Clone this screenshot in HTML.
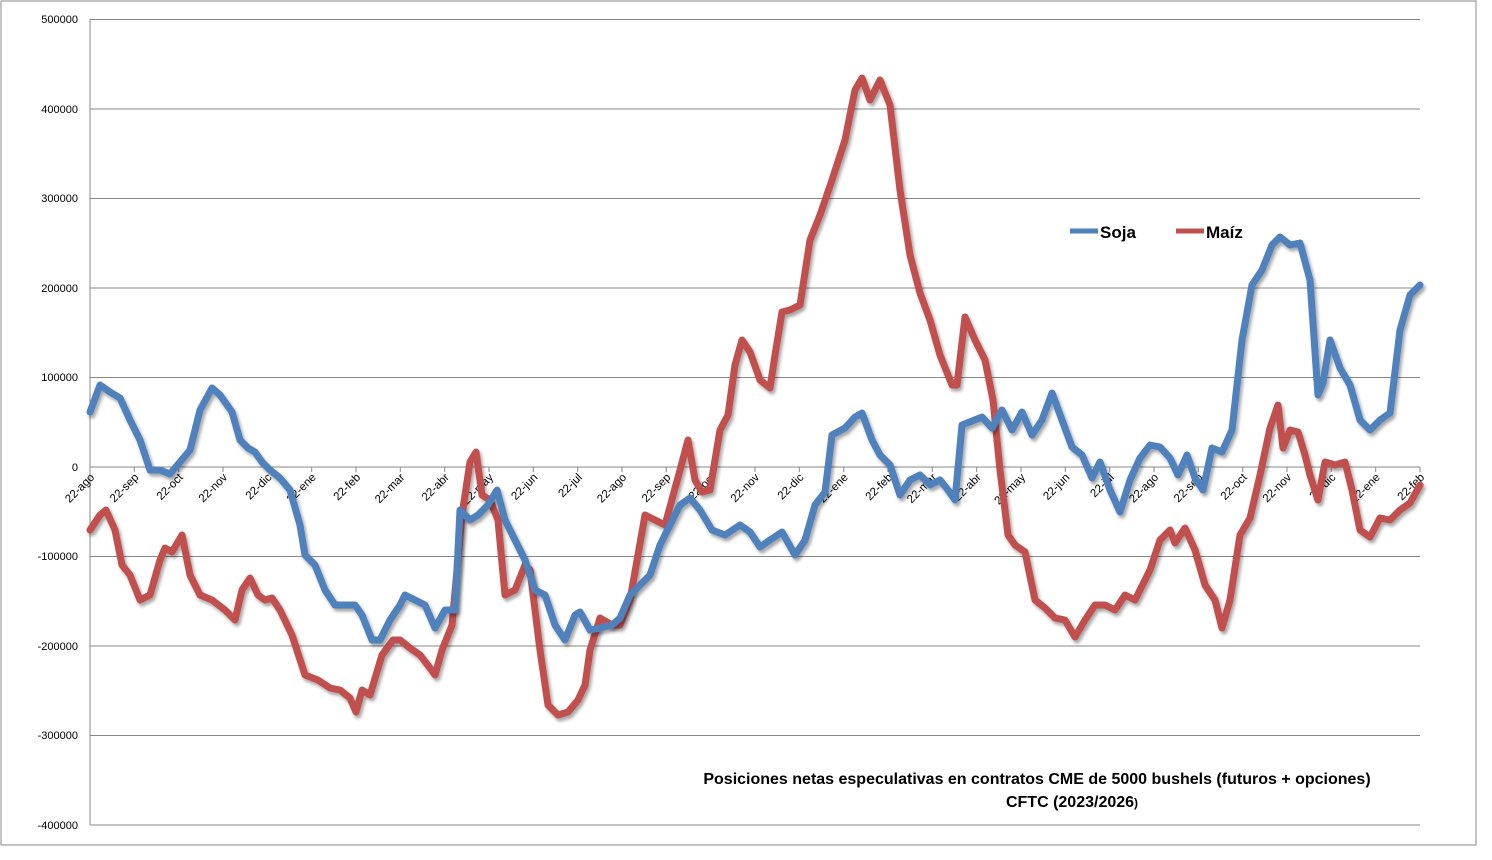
<!DOCTYPE html><html><head><meta charset="utf-8"><style>body{margin:0;background:#fff}svg{display:block}text{font-family:"Liberation Sans",sans-serif}</style></head><body>
<svg width="1492" height="860" xmlns="http://www.w3.org/2000/svg">
<defs><filter id="sh" x="-5%" y="-5%" width="110%" height="110%"><feDropShadow dx="2" dy="3" stdDeviation="1.5" flood-color="#000" flood-opacity="0.35"/></filter></defs>
<rect x="1" y="1" width="1475" height="844" fill="#fff" stroke="#888"/>
<g stroke="#888" stroke-width="1">
<line x1="90" y1="19.5" x2="1420" y2="19.5"/><line x1="90" y1="109" x2="1420" y2="109"/><line x1="90" y1="198.5" x2="1420" y2="198.5"/><line x1="90" y1="288" x2="1420" y2="288"/><line x1="90" y1="377.5" x2="1420" y2="377.5"/><line x1="90" y1="467" x2="1420" y2="467"/><line x1="90" y1="556.5" x2="1420" y2="556.5"/><line x1="90" y1="646" x2="1420" y2="646"/><line x1="90" y1="735.5" x2="1420" y2="735.5"/><line x1="90" y1="825" x2="1420" y2="825"/>
<line x1="90" y1="19" x2="90" y2="825"/>
<path d="M90 467v5M134.3 467v5M178.7 467v5M223 467v5M267.3 467v5M311.7 467v5M356 467v5M400.3 467v5M444.7 467v5M489 467v5M533.3 467v5M577.7 467v5M622 467v5M666.3 467v5M710.7 467v5M755 467v5M799.3 467v5M843.7 467v5M888 467v5M932.3 467v5M976.7 467v5M1021 467v5M1065.3 467v5M1109.7 467v5M1154 467v5M1198.3 467v5M1242.7 467v5M1287 467v5M1331.3 467v5M1375.7 467v5M1420 467v5"/>
</g>
<g font-size="11" text-anchor="end" fill="#000">
<text x="78" y="23">500000</text><text x="78" y="113">400000</text><text x="78" y="202">300000</text><text x="78" y="292">200000</text><text x="78" y="381">100000</text><text x="78" y="471">0</text><text x="78" y="560">-100000</text><text x="78" y="650">-200000</text><text x="78" y="739">-300000</text><text x="78" y="829">-400000</text>
</g>
<g font-size="11.5" text-anchor="end" fill="#000">
<text transform="translate(95,478) rotate(-45)">22-ago</text>
<text transform="translate(139.3,478) rotate(-45)">22-sep</text>
<text transform="translate(183.7,478) rotate(-45)">22-oct</text>
<text transform="translate(228,478) rotate(-45)">22-nov</text>
<text transform="translate(272.3,478) rotate(-45)">22-dic</text>
<text transform="translate(316.7,478) rotate(-45)">22-ene</text>
<text transform="translate(361,478) rotate(-45)">22-feb</text>
<text transform="translate(405.3,478) rotate(-45)">22-mar</text>
<text transform="translate(449.7,478) rotate(-45)">22-abr</text>
<text transform="translate(494,478) rotate(-45)">22-may</text>
<text transform="translate(538.3,478) rotate(-45)">22-jun</text>
<text transform="translate(582.7,478) rotate(-45)">22-jul</text>
<text transform="translate(627,478) rotate(-45)">22-ago</text>
<text transform="translate(671.3,478) rotate(-45)">22-sep</text>
<text transform="translate(715.7,478) rotate(-45)">22-oct</text>
<text transform="translate(760,478) rotate(-45)">22-nov</text>
<text transform="translate(804.3,478) rotate(-45)">22-dic</text>
<text transform="translate(848.7,478) rotate(-45)">22-ene</text>
<text transform="translate(893,478) rotate(-45)">22-feb</text>
<text transform="translate(937.3,478) rotate(-45)">22-mar</text>
<text transform="translate(981.7,478) rotate(-45)">22-abr</text>
<text transform="translate(1026,478) rotate(-45)">22-may</text>
<text transform="translate(1070.3,478) rotate(-45)">22-jun</text>
<text transform="translate(1114.7,478) rotate(-45)">22-jul</text>
<text transform="translate(1159,478) rotate(-45)">22-ago</text>
<text transform="translate(1203.3,478) rotate(-45)">22-sep</text>
<text transform="translate(1247.7,478) rotate(-45)">22-oct</text>
<text transform="translate(1292,478) rotate(-45)">22-nov</text>
<text transform="translate(1336.3,478) rotate(-45)">22-dic</text>
<text transform="translate(1380.7,478) rotate(-45)">22-ene</text>
<text transform="translate(1425,478) rotate(-45)">22-feb</text>
</g>
<polyline filter="url(#sh)" fill="none" stroke="#c0504d" stroke-width="7" stroke-linejoin="round" stroke-linecap="round" points="90,530 100,515 106,510 115,530 122,565 130,575 140,600 150,595 160,560 165,548 172,552 182,535 190,575 200,595 212,600 225,610 235,620 242,590 250,578 258,595 265,600 272,598 280,610 292,635 305,675 318,680 330,688 340,690 350,698 356,712 362,690 370,695 382,655 393,640 400,640 410,648 420,655 430,668 435,675 442,650 452,625 462,515 470,462 476,452 482,495 490,500 498,520 505,595 515,590 525,565 530,570 540,650 548,705 558,715 568,712 578,700 585,685 590,650 600,618 612,625 620,625 630,600 645,515 655,520 665,525 680,470 688,440 695,480 702,492 710,490 720,430 728,415 735,365 742,340 750,352 760,380 770,388 775,355 782,312 790,310 800,305 810,240 820,215 832,180 845,140 855,90 862,78 870,100 880,80 890,105 900,190 910,255 920,293 930,320 940,355 952,385 957,385 965,317 975,340 985,360 993,400 1000,470 1008,535 1015,545 1025,552 1035,600 1045,608 1055,618 1065,620 1075,637 1085,620 1095,605 1105,605 1115,610 1125,595 1135,600 1140,590 1150,570 1160,540 1170,530 1175,543 1185,528 1195,550 1205,585 1215,600 1222,628 1230,600 1240,535 1250,518 1260,475 1270,428 1278,405 1283,448 1290,430 1298,432 1305,455 1310,475 1318,500 1325,462 1335,465 1345,462 1352,490 1360,530 1370,537 1380,518 1390,520 1400,510 1410,503 1420,485"/>
<polyline filter="url(#sh)" fill="none" stroke="#4f81bd" stroke-width="7" stroke-linejoin="round" stroke-linecap="round" points="90,412 100,385 110,392 120,398 130,420 140,440 150,470 160,470 170,474 180,462 190,450 200,410 212,388 220,395 232,412 240,440 248,448 255,452 262,462 270,470 280,478 290,490 300,525 305,555 315,565 325,590 335,605 345,605 355,605 362,615 372,640 380,640 390,620 400,605 405,595 415,600 425,605 435,628 445,610 455,610 460,510 470,520 478,515 488,505 497,490 505,520 515,540 525,560 535,590 545,595 555,625 565,640 575,615 580,612 590,630 600,628 612,625 620,618 630,595 640,585 650,575 660,545 670,525 680,505 690,498 700,510 712,530 725,535 740,525 750,532 760,547 770,540 782,532 795,555 805,540 815,505 825,492 832,435 845,428 855,417 862,413 872,440 880,455 890,465 900,495 910,480 920,475 930,485 940,480 948,490 955,500 962,425 972,421 982,417 992,428 1002,410 1012,430 1022,412 1032,435 1042,420 1052,393 1062,420 1072,447 1082,455 1092,478 1100,462 1110,490 1120,512 1130,480 1140,458 1150,445 1160,447 1170,458 1178,475 1187,455 1195,478 1203,490 1212,448 1222,452 1232,430 1242,340 1252,285 1262,270 1272,245 1280,237 1290,245 1300,243 1310,280 1318,395 1323,383 1330,340 1340,368 1350,385 1360,420 1370,430 1380,420 1390,413 1400,330 1410,295 1420,285"/>
<line x1="1070" y1="231" x2="1098" y2="231" stroke="#4f81bd" stroke-width="5"/><text x="1100" y="238" font-size="17" font-weight="bold">Soja</text>
<line x1="1176" y1="231" x2="1204" y2="231" stroke="#c0504d" stroke-width="5"/><text x="1206" y="238" font-size="17" font-weight="bold">Maíz</text>
<text x="1037" y="784" font-size="16" font-weight="bold" text-anchor="middle">Posiciones netas especulativas en contratos CME de 5000 bushels (futuros + opciones)</text>
<text x="1072" y="807" font-size="16" font-weight="bold" text-anchor="middle">CFTC (2023/2026<tspan font-size="12">)</tspan></text>
</svg></body></html>
